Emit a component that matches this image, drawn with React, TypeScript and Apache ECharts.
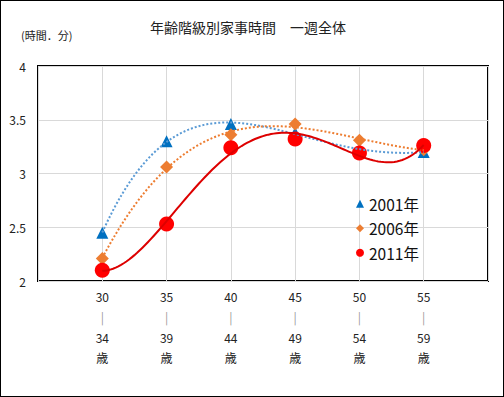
import React, { useEffect, useRef } from "react";
import * as echarts from "echarts";

const ageStarts = [30, 35, 40, 45, 50, 55];
const seriesNames = ["2001年", "2006年", "2011年"];
const values2001 = [2.45, 3.3, 3.46, 3.38, 3.22, 3.2];
const values2006 = [2.21, 3.06, 3.36, 3.46, 3.31, 3.22];
const values2011 = [2.1, 2.53, 3.24, 3.32, 3.19, 3.26];
const yTicks = [2, 2.5, 3, 3.5, 4];
const trendOrder = 4; // Excel polynomial trendline order

const FONT = "'Noto Sans CJK JP', 'Noto Sans', sans-serif";

// least-squares polynomial fit (Excel-style trendline), in normalised t
function polyfit(xs: number[], ys: number[], order: number) {
  const n = order + 1;
  const ts = xs.map((x) => (x - 42.5) / 12.5);
  const A: number[][] = [];
  for (let i = 0; i < n; i++) {
    const row: number[] = [];
    for (let j = 0; j < n; j++) row.push(ts.reduce((s, t) => s + Math.pow(t, i + j), 0));
    row.push(ts.reduce((s, t, k) => s + ys[k] * Math.pow(t, i), 0));
    A.push(row);
  }
  for (let c = 0; c < n; c++) {
    let p = c;
    for (let r = c + 1; r < n; r++) if (Math.abs(A[r][c]) > Math.abs(A[p][c])) p = r;
    [A[c], A[p]] = [A[p], A[c]];
    for (let r = 0; r < n; r++) {
      if (r === c) continue;
      const f = A[r][c] / A[c][c];
      for (let k = c; k <= n; k++) A[r][k] -= f * A[c][k];
    }
  }
  const coef = A.map((row, i) => row[n] / row[i]);
  return (x: number) => {
    const t = (x - 42.5) / 12.5;
    return coef.reduce((s, c, i) => s + c * Math.pow(t, i), 0);
  };
}

export default function App() {
  const ref = useRef<HTMLDivElement>(null);
  useEffect(() => {
    document.body.style.margin = "0";
    const chart = echarts.init(ref.current!, null, { renderer: "svg" });
    const pts = (vals: number[]) => ageStarts.map((a, i) => [a, vals[i]]);
    const trend = (vals: number[], color: string, dash: number[] | null, z: number) => {
      const f = polyfit(ageStarts, vals, trendOrder);
      const x0 = ageStarts[0];
      const x1 = ageStarts[ageStarts.length - 1];
      return {
        type: "custom",
        silent: true,
        z,
        data: [[x0, vals[0]]],
        renderItem: (_p: any, api: any) => {
          const points: number[][] = [];
          const steps = 120;
          for (let k = 0; k <= steps; k++) {
            const x = x0 + ((x1 - x0) * k) / steps;
            points.push(api.coord([x, f(x)]));
          }
          return {
            type: "polyline",
            shape: { points },
            style: {
              stroke: color,
              lineWidth: 2,
              fill: null,
              lineDash: dash || undefined,
            },
          };
        },
      };
    };
    chart.setOption({
      animation: false,
      backgroundColor: "#fff",
      textStyle: { fontFamily: FONT },
      title: [
        {
          text: "年齢階級別家事時間　一週全体",
          left: 242,
          textAlign: "center",
          top: 14,
          textStyle: { fontSize: 14, fontWeight: "normal", color: "#222", fontFamily: FONT },
        },
        {
          text: "(時間．分)",
          left: 15,
          top: 23,
          textStyle: { fontSize: 11, fontWeight: "normal", color: "#222", fontFamily: FONT },
        },
      ],
      legend: {
        orient: "vertical",
        left: 350,
        top: 190,
        itemGap: 9,
        itemWidth: 8,
        itemHeight: 8,
        textStyle: { fontSize: 15.5, color: "#111", fontFamily: FONT },
        data: [
          { name: seriesNames[0], icon: "triangle" },
          { name: seriesNames[1], icon: "diamond" },
          { name: seriesNames[2], icon: "circle" },
        ],
      },
      grid: {
        left: 37,
        right: 15,
        top: 65,
        bottom: 115,
        show: true,
        borderColor: "#000",
        borderWidth: 2,
      },
      xAxis: {
        type: "value",
        min: 25,
        max: 60,
        interval: 5,
        axisLine: { show: false },
        axisTick: { show: false },
        splitLine: { show: true, lineStyle: { color: "#D9D9D9", width: 1 } },
        axisLabel: {
          margin: 5,
          fontSize: 12,
          lineHeight: 20.5,
          color: "#222",
          fontFamily: FONT,
          formatter: (v: number) =>
            ageStarts.includes(v) ? `${v}\n{bar||}\n${v + 4}\n歳` : "",
          rich: {
            bar: { color: "#999", fontSize: 12, lineHeight: 20.5, fontFamily: FONT },
          },
        },
      },
      yAxis: {
        type: "value",
        min: yTicks[0],
        max: yTicks[yTicks.length - 1],
        interval: 0.5,
        axisLine: { show: false },
        axisTick: { show: false },
        splitLine: { show: true, lineStyle: { color: "#D9D9D9", width: 1 } },
        axisLabel: { margin: 12, fontSize: 12, color: "#222", fontFamily: FONT },
      },
      series: [
        {
          name: seriesNames[0],
          type: "scatter",
          data: pts(values2001),
          symbol: "triangle",
          symbolSize: 12,
          itemStyle: { color: "#0070C0", opacity: 1 },
          z: 2,
        },
        {
          name: seriesNames[1],
          type: "scatter",
          data: pts(values2006),
          symbol: "diamond",
          symbolSize: 13,
          itemStyle: { color: "#ED7D31", opacity: 1 },
          z: 3,
        },
        {
          name: seriesNames[2],
          type: "scatter",
          data: pts(values2011),
          symbol: "circle",
          symbolSize: 15,
          itemStyle: { color: "#FF0000", opacity: 1 },
          z: 4,
        },
        trend(values2001, "#5B9BD5", [2, 2], 6),
        trend(values2006, "#ED7D31", [2, 2], 6),
        trend(values2011, "#DD0000", null, 7),
      ],
    });
    return () => chart.dispose();
  }, []);
  return (
    <div
      ref={ref}
      style={{
        position: "absolute",
        left: 0,
        top: 0,
        width: 504,
        height: 397,
        border: "1px solid #000",
        boxSizing: "border-box",
      }}
    />
  );
}
